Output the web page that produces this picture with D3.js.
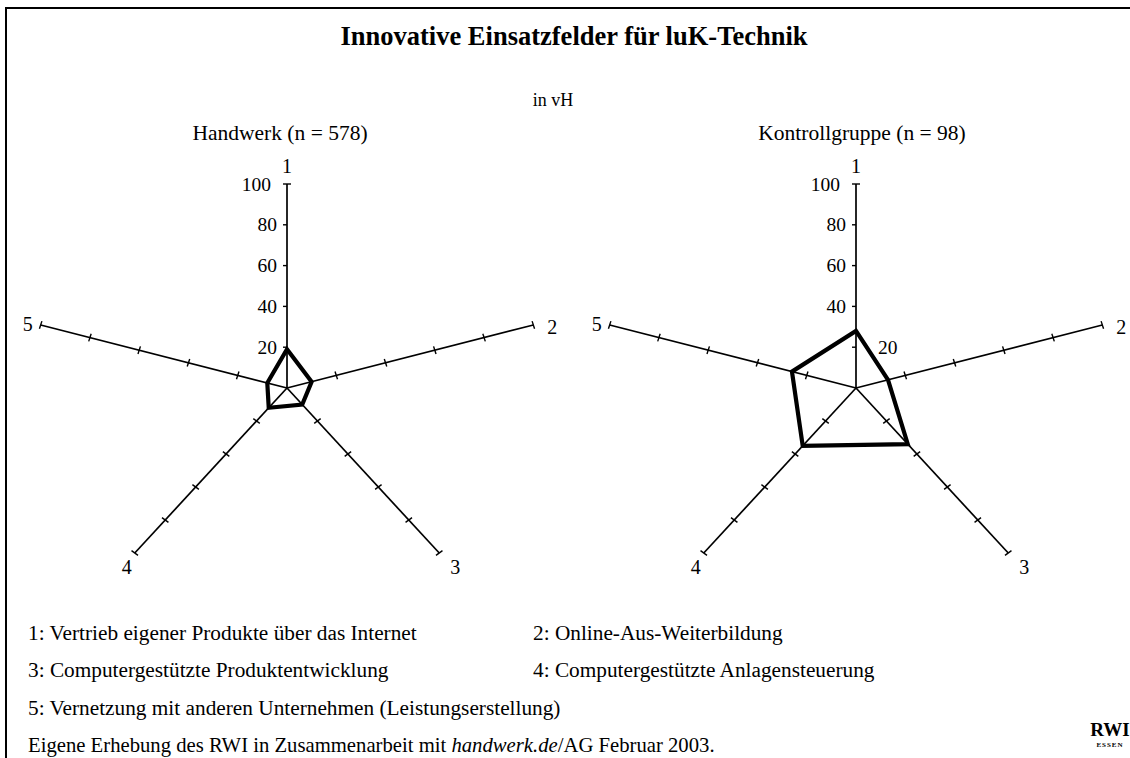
<!DOCTYPE html>
<html lang="de">
<head>
<meta charset="utf-8">
<title>Innovative Einsatzfelder für luK-Technik</title>
<script src="https://cdn.jsdelivr.net/npm/d3@7"></script>
<style>
  body { margin: 0; background: #fff; }
  svg text { font-family: "Liberation Serif", "Times New Roman", serif; fill: #000; }
</style>
</head>
<body>
<div id="chart"></div>
<script>
// axis numbers 1..5, values in vH
const axes = ["1", "2", "3", "4", "5"];
const handwerk = [19, 10, 10, 12, 8];
const kontroll = [28, 13, 34, 35, 26];
const ticks = [20, 40, 60, 80, 100];
const panels = ["Handwerk (n = 578)", "Kontrollgruppe (n = 98)"];
const legend = [
  "1: Vertrieb eigener Produkte über das Internet",
  "2: Online-Aus-Weiterbildung",
  "3: Computergestützte Produktentwicklung",
  "4: Computergestützte Anlagensteuerung",
  "5: Vernetzung mit anderen Unternehmen (Leistungserstellung)"
];

const width = 1130, height = 758;
const svg = d3.select("#chart").append("svg")
  .attr("width", width).attr("height", height);

// frame
svg.append("rect")
  .attr("x", 6).attr("y", 8)
  .attr("width", width).attr("height", height)
  .attr("fill", "none").attr("stroke", "#000").attr("stroke-width", 2);

svg.append("text")
  .attr("x", 574).attr("y", 45)
  .attr("text-anchor", "middle")
  .attr("font-size", 26.5).attr("font-weight", "bold")
  .text("Innovative Einsatzfelder für luK-Technik");

svg.append("text")
  .attr("x", 553).attr("y", 106)
  .attr("text-anchor", "middle").attr("font-size", 18)
  .text("in vH");

// the original plot is stretched horizontally
const rScaleX = d3.scaleLinear().domain([0, 100]).range([0, 259]);
const rScaleY = d3.scaleLinear().domain([0, 100]).range([0, 204]);
const angle = d3.scaleLinear().domain([0, axes.length]).range([0, 2 * Math.PI]);

function pt(i, v, cx, cy) {
  const a = angle(i);
  return [cx + Math.sin(a) * rScaleX(v), cy - Math.cos(a) * rScaleY(v)];
}

const labelOffset = [[0, -18], [19, 2], [16, 14], [-8, 14], [-13, -1]];

function drawRadar(cx, cy, data, title, titleX, label20) {
  const g = svg.append("g");

  g.append("text")
    .attr("x", titleX).attr("y", 140)
    .attr("text-anchor", "middle").attr("font-size", 21.5)
    .text(title);

  axes.forEach((name, i) => {
    const end = pt(i, 100, cx, cy);
    g.append("line")
      .attr("x1", cx).attr("y1", cy)
      .attr("x2", end[0]).attr("y2", end[1])
      .attr("stroke", "#000").attr("stroke-width", 1.7);

    // tick marks
    const a = angle(i);
    const nx = Math.cos(a), ny = Math.sin(a);
    ticks.forEach(t => {
      const p = pt(i, t, cx, cy);
      const left = 4, right = (i === 0 && t < 100) ? 0 : 4;
      g.append("line")
        .attr("x1", p[0] - nx * left).attr("y1", p[1] - ny * left)
        .attr("x2", p[0] + nx * right).attr("y2", p[1] + ny * right)
        .attr("stroke", "#000").attr("stroke-width", 1.4);
    });

    g.append("text")
      .attr("x", end[0] + labelOffset[i][0])
      .attr("y", end[1] + labelOffset[i][1])
      .attr("text-anchor", "middle").attr("dominant-baseline", "central")
      .attr("font-size", 20)
      .text(name);
  });

  // value labels on axis 1
  ticks.forEach(t => {
    const p = pt(0, t, cx, cy);
    const moved = (t === 20 && label20);
    g.append("text")
      .attr("x", moved ? p[0] + 22 : p[0] - (t === 100 ? 16 : 10))
      .attr("y", p[1])
      .attr("text-anchor", moved ? "start" : "end")
      .attr("dominant-baseline", "central")
      .attr("font-size", 19.5)
      .text(t);
  });

  const line = d3.line().curve(d3.curveLinearClosed);
  g.append("path")
    .attr("d", line(data.map((v, i) => pt(i, v, cx, cy))))
    .attr("fill", "none").attr("stroke", "#000")
    .attr("stroke-width", 4.2).attr("stroke-linejoin", "miter");
}

drawRadar(287, 388, handwerk, panels[0], 280, false);
drawRadar(856, 388, kontroll, panels[1], 862, true);

// legend
const legPos = [[28, 640], [533, 640], [28, 677], [533, 677], [28, 715]];
svg.selectAll("text.leg").data(legend).enter().append("text")
  .attr("class", "leg")
  .attr("x", (d, i) => legPos[i][0])
  .attr("y", (d, i) => legPos[i][1])
  .attr("font-size", 21.3)
  .text(d => d);

const src = svg.append("text").attr("x", 28).attr("y", 752).attr("font-size", 20.7);
src.append("tspan").text("Eigene Erhebung des RWI in Zusammenarbeit mit ");
src.append("tspan").attr("font-style", "italic").text("handwerk.de");
src.append("tspan").text("/AG Februar 2003.");

// RWI mark
svg.append("text")
  .attr("x", 1110).attr("y", 736)
  .attr("text-anchor", "middle").attr("font-size", 19).attr("font-weight", "bold")
  .text("RWI");
svg.append("text")
  .attr("x", 1110).attr("y", 747)
  .attr("text-anchor", "middle").attr("font-size", 7).attr("font-weight", "bold")
  .attr("letter-spacing", 1)
  .text("ESSEN");
</script>
</body>
</html>
